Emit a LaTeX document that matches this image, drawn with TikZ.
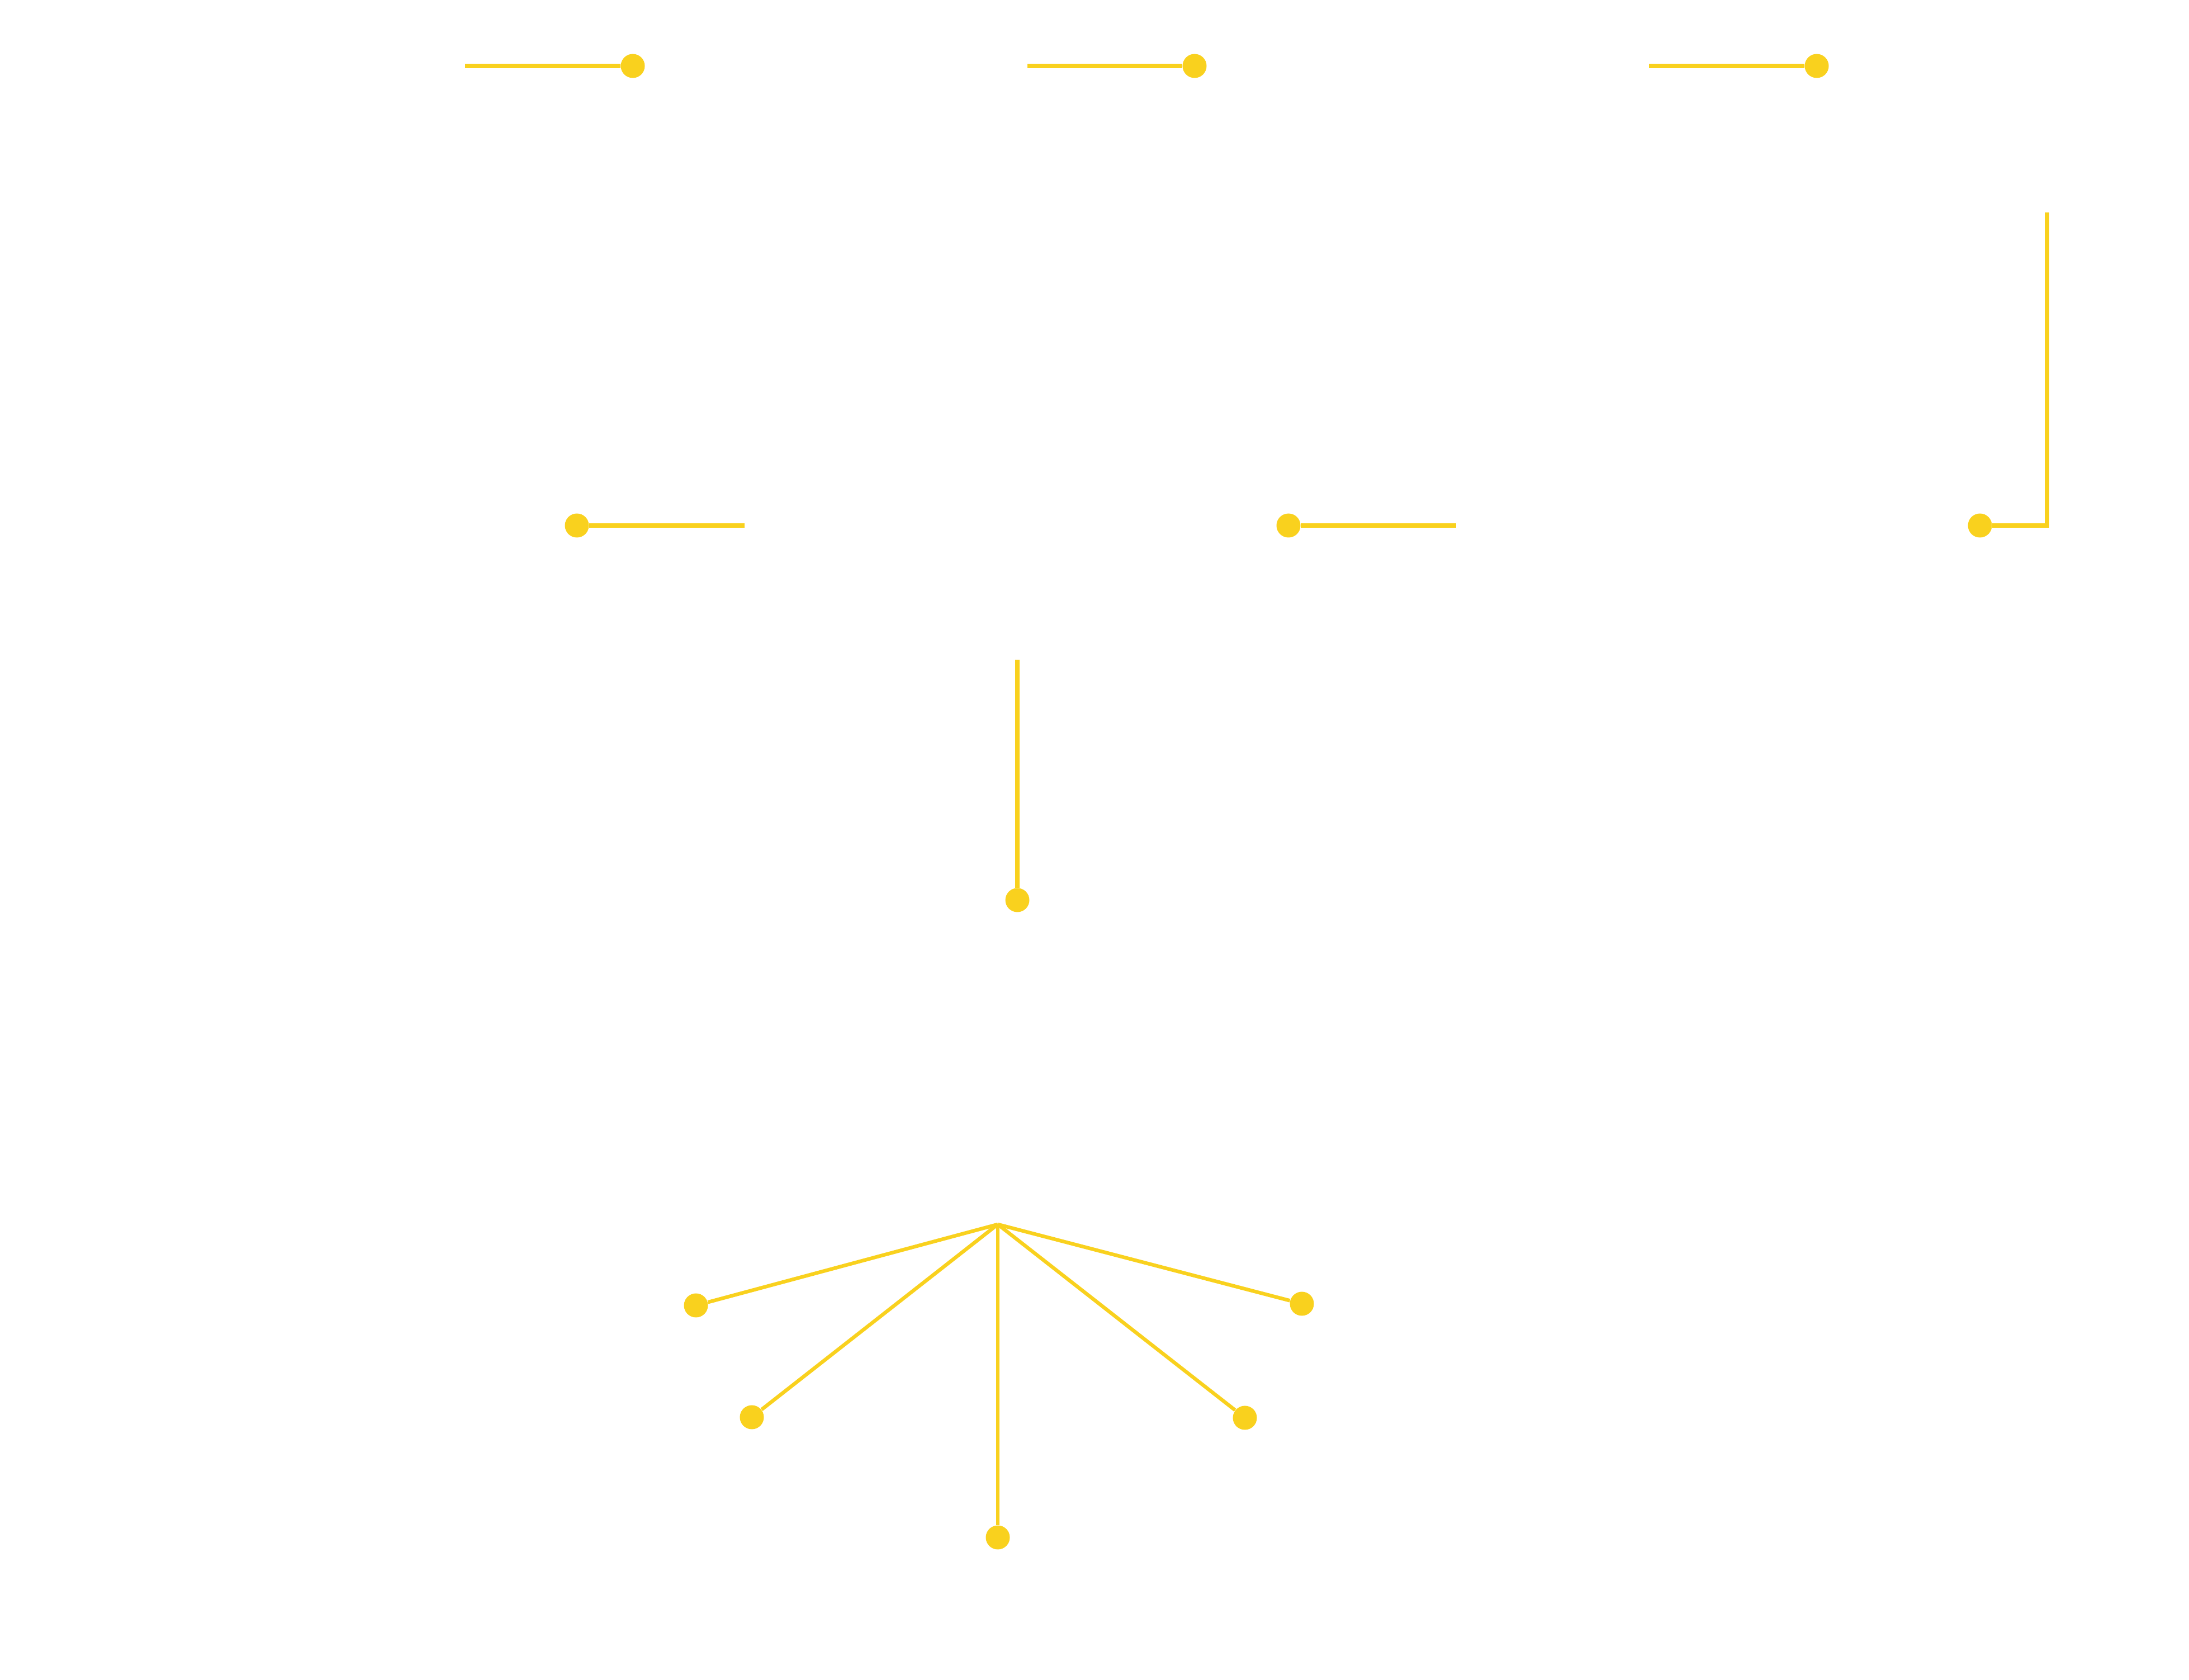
\documentclass[tikz,border=0pt]{standalone}
\usepackage{tikz}

\definecolor{gold}{RGB}{249,209,30}

\tikzset{
    dot/.style={circle, fill=gold, inner sep=0pt, minimum size=0.43cm},
    wire/.style={draw=gold, line width=0.08cm}
}

\begin{document}
\begin{tikzpicture}

\useasboundingbox (0, 0) rectangle (39.16, 30.04);

% top row
\coordinate (a1s) at (8.32, 28.86);
\coordinate (a2s) at (18.38, 28.86);
\coordinate (a3s) at (29.50, 28.86);
\node[dot] (a1) at (11.32, 28.86) {};
\node[dot] (a2) at (21.37, 28.86) {};
\node[dot] (a3) at (32.50, 28.86) {};
\draw[wire] (a1s) -- (a1);
\draw[wire] (a2s) -- (a2);
\draw[wire] (a3s) -- (a3);

% middle row
\node[dot] (b1) at (10.32, 20.64) {};
\node[dot] (b2) at (23.05, 20.64) {};
\node[dot] (b3) at (35.42, 20.64) {};
\coordinate (b1e) at (13.32, 20.64);
\coordinate (b2e) at (26.05, 20.64);
\coordinate (b3e) at (36.62, 26.24);
\draw[wire] (b1) -- (b1e);
\draw[wire] (b2) -- (b2e);
\draw[wire] (b3) -| (b3e);

% vertical
\coordinate (cs) at (18.20, 18.24);
\node[dot] (c) at (18.20, 13.94) {};
\draw[wire] (cs) -- (c);

% fan
\coordinate (hub) at (17.85, 8.14);
\node[dot] (f1) at (12.45, 6.69) {};
\node[dot] (f2) at (13.45, 4.69) {};
\node[dot] (f3) at (17.85, 2.54) {};
\node[dot] (f4) at (22.27, 4.68) {};
\node[dot] (f5) at (23.29, 6.72) {};
\foreach \f in {f1,f2,f3,f4,f5}
{
    \draw[wire, line width=0.065cm] (hub) -- (\f);
}

\end{tikzpicture}
\end{document}
